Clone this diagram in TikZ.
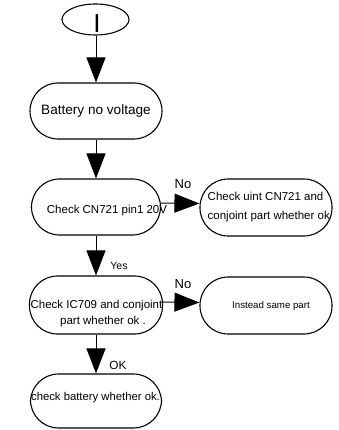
\documentclass[tikz,border=0pt]{standalone}
\usepackage{fontspec}
\setmainfont{Liberation Sans}
\usetikzlibrary{arrows.meta,shapes.geometric}
\begin{document}
\begin{tikzpicture}[x=1pt,y=-1pt,
  lbox/.style={draw, line width=1.1pt, rounded corners=28pt, inner sep=0pt, fill=none},
  startnode/.style={draw, ellipse, line width=1.1pt, inner sep=0pt, minimum width=67pt, minimum height=31pt},
  txt/.style={inner sep=0pt, font=\fontsize{11.5}{19}\selectfont},
  lab/.style={inner sep=0pt, font=\fontsize{13}{13}\selectfont},
  arr/.style={line width=1pt, -{Triangle[length=25pt,width=19pt]}}
]
\useasboundingbox (0,0) rectangle (338,430);

% shapes
\node[startnode] (start) at (95.5,19.5) {};
\node[inner sep=0pt, font=\fontsize{26}{26}\selectfont] (starttxt) at (97,24) {I};

\node[lbox, minimum width=132pt, minimum height=56pt, font=\fontsize{13.6}{16}\selectfont] (bat) at (96,111) {Battery no voltage};

\node[lbox, minimum width=129pt, minimum height=56pt] (cn) at (96,207) {};
\node[txt] (cntxt) at (107,211) {Check CN721 pin1 20V};

\node[lbox, minimum width=132pt, minimum height=57pt] (r1) at (266,207.5) {};
\node[txt, anchor=west, align=left] (r1txt) at (207.5,207) {Check uint CN721 and\\conjoint part whether ok};

\node[lbox, minimum width=133pt, minimum height=58pt] (ic) at (96,305) {};
\node[txt, font=\fontsize{11.5}{16}\selectfont, align=center] (ictxt) at (96.5,313.5) {Check IC709 and conjoint\\\hspace*{13pt}part whether ok .};

\node[lbox, minimum width=132pt, minimum height=57pt] (r2) at (266,305.5) {};
\node[txt, font=\fontsize{9.7}{12}\selectfont] (r2txt) at (271,306) {Instead same part};

\node[lbox, minimum width=131pt, minimum height=54pt] (cb) at (96,401) {};
\node[txt, font=\fontsize{11.3}{14}\selectfont] (cbtxt) at (95.5,398) {check battery whether ok.};

% connectors
\draw[arr] (start.south -| bat.north) -- (bat);
\draw[arr] (bat) -- (cn);
\draw[arr] (cn) -- (ic);
\draw[arr] (ic) -- (cb);
\draw[arr] ([yshift=4pt]cn.east) -- ([yshift=4pt]r1.west);
\draw[arr] ([yshift=3pt]ic.east) -- ([yshift=3pt]r2.west);

% labels
\node[lab] (no1) at (183,184) {No};
\node[lab] (no2) at (183,284) {No};
\node[lab, font=\fontsize{10.5}{10.5}\selectfont] (yes) at (119,265.5) {Yes};
\node[lab, font=\fontsize{11.8}{11.8}\selectfont] (ok) at (118,365) {OK};
\end{tikzpicture}
\end{document}
